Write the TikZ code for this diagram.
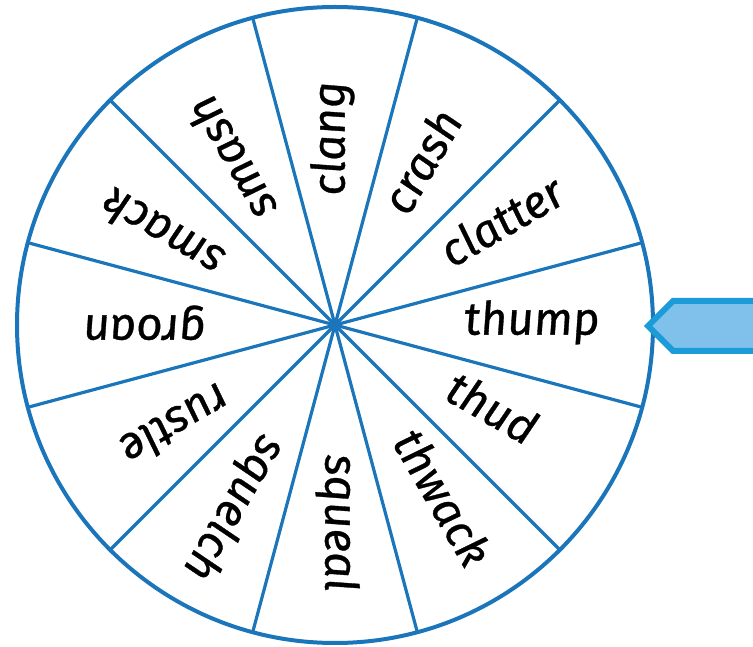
\documentclass[tikz,border=0pt]{standalone}
\usepackage{fontspec}
\setmainfont{Fira Sans}
\newfontfamily\wordfont{Fira Sans}[ItalicFeatures={FakeSlant=-0.07,FakeBold=0.7}]
\usetikzlibrary{calc}
\definecolor{wheelblue}{HTML}{1B75BB}
\definecolor{arrowedge}{HTML}{1B9BD7}
\definecolor{arrowfill}{HTML}{80C1EB}
\begin{document}
\begin{tikzpicture}[x=1pt,y=1pt,
  word/.style={font=\wordfont\fontsize{46}{46}\selectfont\itshape, inner sep=0pt, anchor=mid west},
  rim/.style={wheelblue, line width=4pt},
  spoke/.style={wheelblue, line width=3.2pt},
  pointer/.style={arrowedge, fill=arrowfill, line width=6pt, line join=miter}]
\useasboundingbox (0,0) rectangle (753,646);
\clip (0,0) rectangle (753,646);
\coordinate (c) at (335,321);
\draw[rim] (c) circle (318);
\foreach \a in {15,45,...,345} \draw[spoke] (c) -- ($(c)+(\a:318)$);
\fill[wheelblue] (c) circle (4);
\foreach \a/\w in {0/thump,30/clatter,60/crash,90/clang,120/smash,150/smack,180/groan,210/rustle,240/squelch,270/squeal,300/thwack,330/thud}
  \node[word, rotate=\a] (w\a) at ($(c)+(\a:130)+(\a-90:7)$) {\w};
\draw[pointer] (648,320) -- (673,345) -- (760,345) -- (760,295) -- (673,295) -- cycle;
\end{tikzpicture}
\end{document}
